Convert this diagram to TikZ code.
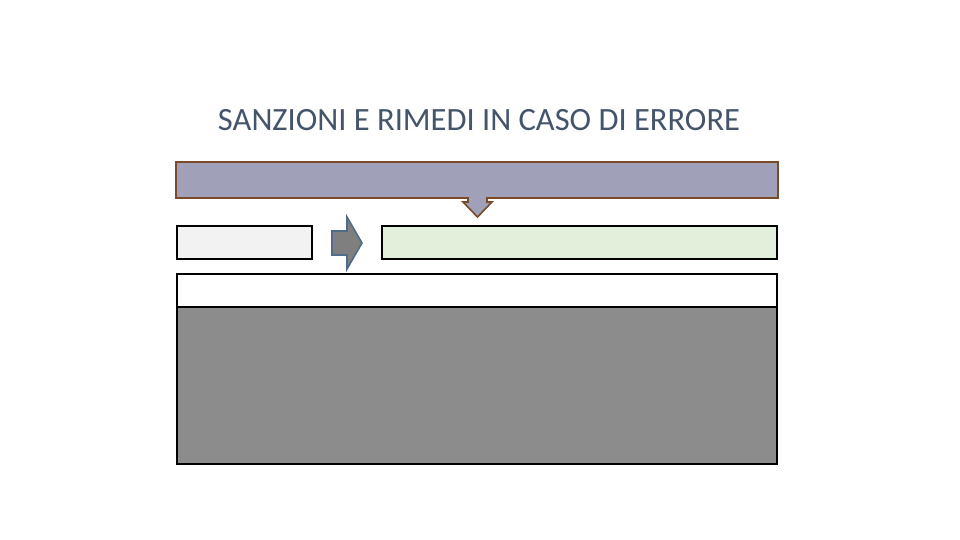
\documentclass[tikz,border=0pt]{standalone}
\usepackage{fontspec}
\setmainfont{Carlito}
\usetikzlibrary{calc}
\definecolor{titlegray}{HTML}{44546A}
\definecolor{lavender}{HTML}{A0A0B8}
\definecolor{brownline}{HTML}{7B4A2A}
\definecolor{palegreen}{HTML}{E2EFDA}
\definecolor{lightgray}{HTML}{F2F2F2}
\definecolor{midgray}{HTML}{8C8C8C}
\definecolor{arrowgray}{HTML}{7F7F7F}
\definecolor{arrowblue}{HTML}{4F6D8A}
\tikzset{
  box/.style={draw=black, line width=2.2pt, inner sep=0pt},
  blockarrow/.style={line width=1.6pt, line join=miter}
}
\begin{document}
\begin{tikzpicture}[x=1pt, y=-1pt]
    \useasboundingbox (0,0) rectangle (960,540);
    % titolo
    \node[text=titlegray, font=\fontsize{32.5}{36}\selectfont] (titolo) at (479,120) {SANZIONI E RIMEDI IN CASO DI ERRORE};
    
    % riquadri
    \node[box, draw=brownline, fill=lavender, minimum width=602pt, minimum height=36pt] (sanzioni) at (477,180) {};
    \node[box, fill=lightgray, minimum width=135pt, minimum height=33pt] (errore) at (244.5,242.5) {};
    \node[box, fill=palegreen, minimum width=395pt, minimum height=33pt] (rimedio) at (579.5,242.5) {};
    \node[box, fill=white, minimum width=600pt, minimum height=33pt] (intestazione) at (477,290.5) {};
    \node[box, fill=midgray, minimum width=600pt, minimum height=157pt] (dettaglio) at (477,385.5) {};
    
    % frecce
    \coordinate (giu) at (477.5,217);
    \fill[lavender]
      ($(giu)+(-9.5,-23)$) -- ++(19,0) -- ++(0,8) -- ++(5,0) -- (giu)
      -- ++(-14.5,-15) -- ++(5,0) -- cycle;
    \draw[blockarrow, draw=brownline]
      ($(giu)+(-9.5,-20)$) -- ++(0,5) -- ++(-5,0) -- (giu)
      -- ++(14.5,-15) -- ++(-5,0) -- ++(0,-5);
    \coordinate (destra) at (362,243);
    \filldraw[blockarrow, draw=arrowblue, fill=arrowgray]
      ($(destra)+(-30,-12)$) -- ++(15,0) -- ++(0,-14) -- (destra)
      -- ++(-15,26) -- ++(0,-14) -- ++(-15,0) -- cycle;
\end{tikzpicture}
\end{document}
